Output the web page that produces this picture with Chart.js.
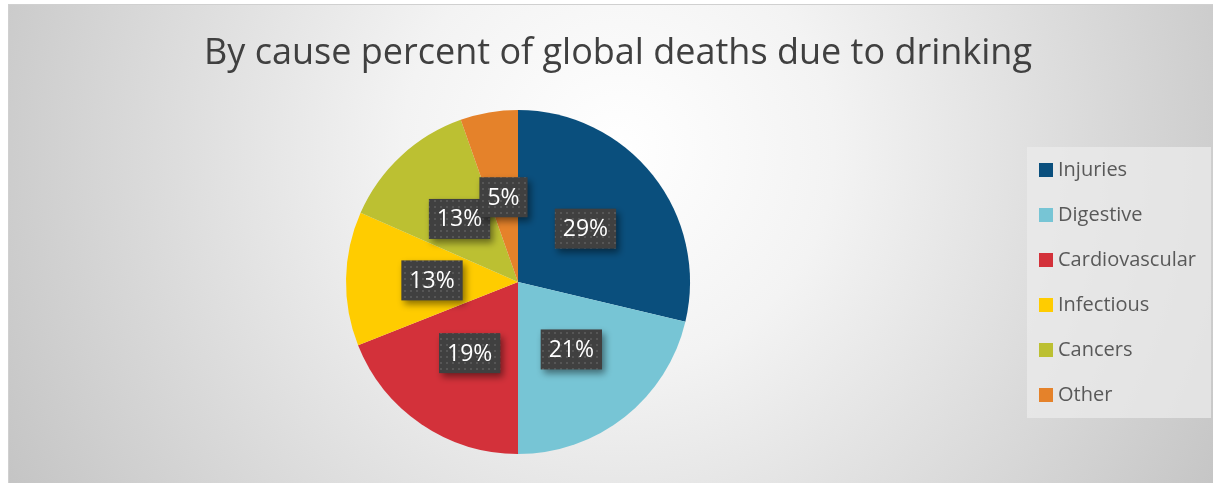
<!DOCTYPE html>
<html>
<head>
<meta charset="utf-8">
<script src="https://cdn.jsdelivr.net/npm/chart.js@4"></script>
<style>
  html, body { margin: 0; padding: 0; background: #fff; }
  #wrap { position: absolute; left: 0; top: 0; width: 1213px; height: 483px; }
</style>
</head>
<body>
<div id="wrap"><canvas id="c" width="1213" height="483"></canvas></div>
<script>
const causes = ['Injuries', 'Digestive', 'Cardiovascular', 'Infectious', 'Cancers', 'Other'];
const shares = [28.7, 21.3, 19.0, 12.6, 13.0, 5.4];
const colors = ['#0a4f7d', '#77c5d5', '#d3313a', '#ffcc00', '#bcc032', '#e5822a'];
const titleText = 'By cause percent of global deaths due to drinking';

const FONT = '"Open Sans", "Noto Sans", sans-serif';

// dotted fill used by the data label boxes
const makeDots = function (ctx) {
  const p = document.createElement('canvas');
  p.width = 6; p.height = 6;
  const g = p.getContext('2d');
  g.fillStyle = '#404040';
  g.fillRect(0, 0, 6, 6);
  g.fillStyle = '#565656';
  g.fillRect(2, 2, 2, 2);
  return ctx.createPattern(p, 'repeat');
};

const backdrop = {
  id: 'backdrop',
  beforeDraw(chart) {
    const ctx = chart.ctx;
    const w = chart.width, h = chart.height;
    ctx.save();
    ctx.fillStyle = '#ffffff';
    ctx.fillRect(0, 0, w, h);
    const grad = ctx.createRadialGradient(618, 150, 0, 618, 150, 720);
    grad.addColorStop(0, '#ffffff');
    grad.addColorStop(0.3, '#f3f3f3');
    grad.addColorStop(1, '#c2c2c2');
    ctx.fillStyle = grad;
    ctx.fillRect(8, 5, w - 8, h - 5);
    ctx.strokeStyle = '#d0d0d0';
    ctx.lineWidth = 1;
    ctx.strokeRect(8.5, 4.5, w - 8, h - 4);

    // title
    ctx.fillStyle = '#404040';
    ctx.font = '36px ' + FONT;
    ctx.textAlign = 'center';
    ctx.textBaseline = 'middle';
    ctx.fillText(titleText, 618, 54);
    ctx.restore();
  },
  afterDraw(chart) {
    const ctx = chart.ctx;
    ctx.save();
    // legend panel
    ctx.fillStyle = 'rgba(235,235,235,0.75)';
    ctx.fillRect(1027, 147, 184, 271);
    ctx.font = '20px ' + FONT;
    ctx.textAlign = 'left';
    ctx.textBaseline = 'middle';
    chart.data.labels.forEach((lab, i) => {
      const y = 170 + i * 45;
      ctx.fillStyle = chart.data.datasets[0].backgroundColor[i];
      ctx.fillRect(1039, y - 7, 14, 14);
      ctx.fillStyle = '#595959';
      ctx.fillText(lab, 1058, y);
    });

    // data label boxes
    const meta = chart.getDatasetMeta(0);
    const dots = makeDots(ctx);
    ctx.font = '23px ' + FONT;
    ctx.textAlign = 'center';
    meta.data.forEach((arc, i) => {
      const pos = arc.tooltipPosition();
      const txt = Math.round(shares[i]) + '%';
      const bw = ctx.measureText(txt).width + 16;
      const bh = 40;
      ctx.save();
      ctx.shadowColor = 'rgba(0,0,0,0.45)';
      ctx.shadowBlur = 7;
      ctx.shadowOffsetX = 3;
      ctx.shadowOffsetY = 4;
      ctx.fillStyle = dots;
      ctx.fillRect(pos.x - bw / 2, pos.y - bh / 2, bw, bh);
      ctx.restore();
      ctx.fillStyle = '#ffffff';
      ctx.fillText(txt, pos.x, pos.y + 1);
    });
    ctx.restore();
  }
};

new Chart(document.getElementById('c'), {
  type: 'pie',
  data: {
    labels: causes,
    datasets: [{
      data: shares,
      backgroundColor: colors,
      borderWidth: 0
    }]
  },
  options: {
    responsive: false,
    animation: false,
    layout: { padding: { top: 110, bottom: 29, left: 346, right: 523 } },
    plugins: {
      legend: { display: false },
      title: { display: false },
      tooltip: { enabled: false }
    }
  },
  plugins: [backdrop]
});
</script>
</body>
</html>
